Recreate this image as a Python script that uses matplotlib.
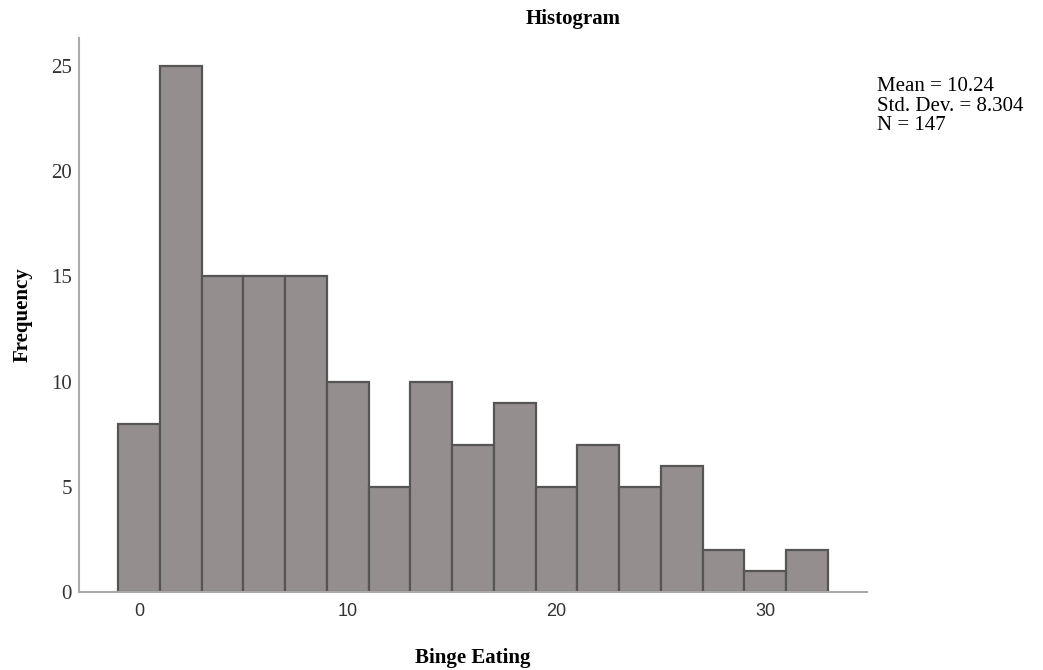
import numpy as np
import matplotlib
matplotlib.use("Agg")
import matplotlib.pyplot as plt

# bin left edges (width 2) and counts
bin_edges = [-1, 1, 3, 5, 7, 9, 11, 13, 15, 17, 19, 21, 23, 25, 27, 29, 31, 33]
counts = [8, 25, 15, 15, 15, 10, 5, 10, 7, 9, 5, 7, 5, 6, 2, 1, 2]
x_ticks = [0, 10, 20, 30]
y_ticks = [0, 5, 10, 15, 20, 25]
stats_text = "Mean = 10.24\nStd. Dev. = 8.304\nN = 147"

serif = "Liberation Serif"

fig = plt.figure(figsize=(10.43, 6.7), dpi=100)
ax = fig.add_axes([0.0757, 0.1164, 0.7556, 0.8269])

lefts = np.array(bin_edges[:-1])
widths = np.diff(bin_edges)
ax.bar(lefts, counts, width=widths, align="edge", color="#948f8e",
       edgecolor="#555555", linewidth=1.6)

ax.set_xlim(-2.875, 34.88)
ax.set_ylim(0, 26.33)

for s in ["top", "right"]:
    ax.spines[s].set_visible(False)
for s in ["left", "bottom"]:
    ax.spines[s].set_color("#aaaaaa")
    ax.spines[s].set_linewidth(1.5)

ax.set_xticks(x_ticks)
ax.set_yticks(y_ticks)
ax.tick_params(length=0)
ax.tick_params(axis="x", pad=8)
ax.tick_params(axis="y", pad=5)
for lbl in ax.get_xticklabels():
    lbl.set_fontfamily("Liberation Sans")
    lbl.set_fontsize(13)
    lbl.set_color("#333333")
for lbl in ax.get_yticklabels():
    lbl.set_fontfamily(serif)
    lbl.set_fontsize(15)
    lbl.set_color("#333333")

ax.set_xlabel("Binge Eating", fontfamily=serif, fontweight="bold", fontsize=15, labelpad=20)
ax.set_ylabel("Frequency", fontfamily=serif, fontweight="bold", fontsize=15, labelpad=13)

fig.text(573 / 1043, 1 - 19 / 670, "Histogram", fontfamily=serif, fontweight="bold",
         fontsize=15, ha="center", va="center")
fig.text(877 / 1043, 1 - 77 / 670, stats_text, fontfamily=serif, fontsize=15,
         ha="left", va="top", linespacing=1.05)

fig.savefig("out.png", dpi=100)
